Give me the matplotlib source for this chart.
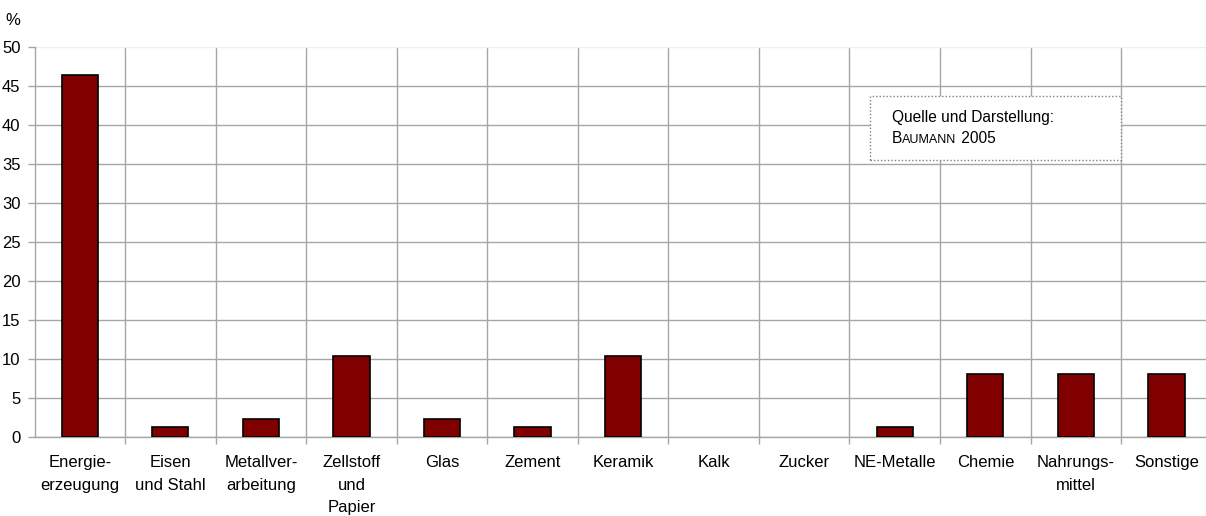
import numpy as np
import matplotlib
matplotlib.use("Agg")
import matplotlib.pyplot as plt
from matplotlib.patches import Rectangle

plt.rcParams['font.family'] = ['Liberation Sans', 'DejaVu Sans']

categories = ["Energie-\nerzeugung", "Eisen\nund Stahl", "Metallver-\narbeitung",
              "Zellstoff\nund\nPapier", "Glas", "Zement", "Keramik", "Kalk",
              "Zucker", "NE-Metalle", "Chemie", "Nahrungs-\nmittel", "Sonstige"]
shares = [46.4, 1.2, 2.3, 10.4, 2.3, 1.2, 10.4, 0, 0, 1.2, 8.1, 8.1, 8.1]
yticks = [0, 5, 10, 15, 20, 25, 30, 35, 40, 45, 50]

W, H = 1206, 516
fig = plt.figure(figsize=(W / 100, H / 100), dpi=100)

# plot area runs a little past the right edge of the figure
left, right, top, bottom = 34.5, 1211.7, 47.3, 436.7
ax = fig.add_axes([left / W, 1 - bottom / H, (right - left) / W, (bottom - top) / H])

x = np.arange(len(categories))
bars = ax.bar(x, shares, width=0.4, color='#800000', edgecolor='black', linewidth=1.2, zorder=3)
for b, v in zip(bars, shares):
    if v == 0:
        b.set_visible(False)

ax.set_xlim(-0.5, len(categories) - 0.5)
ax.set_ylim(0, 50)

fs = 12
grid_col = '#a6a6a6'
ax.set_yticks(yticks)
ax.set_yticklabels([str(v) for v in yticks], fontsize=fs)
ax.yaxis.grid(True, color=grid_col, linewidth=1, zorder=0)
ax.yaxis.get_gridlines()[-1].set_color('#eeeeee')

ax.set_xticks(x)
ax.set_xticklabels(categories, fontsize=fs, linespacing=1.62, va='top')
ax.set_xticks(np.arange(0.5, len(categories) - 1, 1), minor=True)
ax.xaxis.grid(True, which='minor', color=grid_col, linewidth=1, zorder=0)
ax.tick_params(axis='x', which='major', length=0, pad=13.5)
ax.tick_params(axis='x', which='minor', length=5, color=grid_col, width=1)
ax.tick_params(axis='y', length=5, color=grid_col, width=1, pad=5)

for side in ('top', 'right'):
    ax.spines[side].set_visible(False)
for side in ('left', 'bottom'):
    ax.spines[side].set_color(grid_col)
    ax.spines[side].set_linewidth(1)

fig.text(5 / W, 1 - 25 / H, '%', fontsize=fs, ha='left', va='baseline')

# source note with dotted frame
ax.add_patch(Rectangle((8.73, 35.5), 11.5 - 8.73, 43.7 - 35.5, fill=True,
                       facecolor='white', edgecolor='#808080', linestyle=(0, (1, 1.5)),
                       linewidth=1, zorder=4))
ax.text(8.97, 40.4, 'Quelle und Darstellung:', fontsize=11.2, va='baseline', zorder=5)
t1 = ax.text(8.97, 37.7, 'B', fontsize=11.2, va='baseline', zorder=5)
t2 = ax.annotate('AUMANN', xy=(1, 0), xycoords=t1, fontsize=9,
                 va='bottom', ha='left', zorder=5)
ax.annotate(' 2005', xy=(1, 0), xycoords=t2, fontsize=11.2, va='bottom', ha='left', zorder=5)

fig.savefig('out.png', dpi=100)
